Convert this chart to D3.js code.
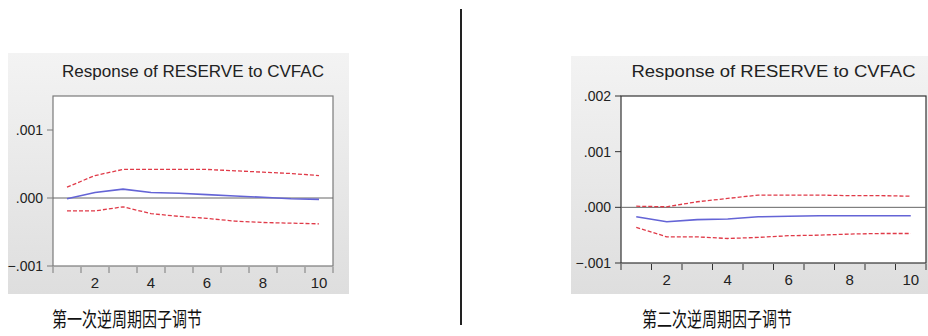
<!DOCTYPE html>
<html>
<head>
<meta charset="utf-8">
<script src="https://cdn.jsdelivr.net/npm/d3@7"></script>
<style>
  body { margin: 0; background: #fff; }
  svg { display: block; }
</style>
</head>
<body>
<div id="chart"></div>
<script>
// impulse response data
const periods = [1, 2, 3, 4, 5, 6, 7, 8, 9, 10];
const xTickLabels = [2, 4, 6, 8, 10];

const resp1 = [-0.00001, 0.00008, 0.00013, 0.00008, 0.00007, 0.00005, 0.00003, 0.00001, -0.00001, -0.00002];
const upper1 = [0.00016, 0.00033, 0.00042, 0.00042, 0.00042, 0.00042, 0.0004, 0.00038, 0.00036, 0.00033];
const lower1 = [-0.00019, -0.00019, -0.00013, -0.00023, -0.00027, -0.0003, -0.00034, -0.00036, -0.00037, -0.00038];

const resp2 = [-0.00017, -0.00026, -0.00022, -0.00021, -0.00017, -0.00016, -0.00015, -0.00015, -0.00015, -0.00015];
const upper2 = [0.00002, 0.00001, 0.0001, 0.00016, 0.00022, 0.00022, 0.00022, 0.00021, 0.00021, 0.0002];
const lower2 = [-0.00036, -0.00053, -0.00053, -0.00056, -0.00054, -0.00051, -0.0005, -0.00048, -0.00047, -0.00047];

const yTicks1 = [-0.001, 0, 0.001];
const yTicks2 = [-0.001, 0, 0.001, 0.002];
const yDomain1 = [-0.001, 0.0015];
const yDomain2 = [-0.001, 0.002];

const chartTitle = "Response of RESERVE to CVFAC";
const captions = ["第一次逆周期因子调节", "第二次逆周期因子调节"];

const W = 928, H = 336;
const svg = d3.select("#chart").append("svg")
  .attr("width", W).attr("height", H);

// background gradient for the gray EViews frame
const defs = svg.append("defs");
const grad = defs.append("linearGradient")
  .attr("id", "bg").attr("x1", 0).attr("y1", 0).attr("x2", 0).attr("y2", 1);
grad.append("stop").attr("offset", "0%").attr("stop-color", "#f3f3f3");
grad.append("stop").attr("offset", "100%").attr("stop-color", "#dedede");

const fmt = v => d3.format(".3f")(v).replace("0.", ".");

const panels = [
  { bg: [8, 53, 341, 241], plot: { l: 53, t: 96, r: 333, b: 266 }, titleY: 77, titleW: 262,
    resp: resp1, upper: upper1, lower: lower1, yTicks: yTicks1, yDomain: yDomain1,
    frame: "#7a7a7a", captionX: 127 },
  { bg: [571, 56, 357, 238], plot: { l: 621, t: 96, r: 926, b: 263 }, titleY: 77, titleW: 284,
    resp: resp2, upper: upper2, lower: lower2, yTicks: yTicks2, yDomain: yDomain2,
    frame: "#333", captionX: 717 }
];

panels.forEach((p, i) => {
  const g = svg.append("g");
  const { l, t, r, b } = p.plot;

  g.append("rect")
    .attr("x", p.bg[0]).attr("y", p.bg[1])
    .attr("width", p.bg[2]).attr("height", p.bg[3])
    .attr("fill", "url(#bg)");

  const x = d3.scaleBand().domain(periods).range([l, r]);
  const y = d3.scaleLinear().domain(p.yDomain).range([b, t]);
  const cx = d => x(d) + x.bandwidth() / 2;

  // plot area
  g.append("rect")
    .attr("x", l).attr("y", t).attr("width", r - l).attr("height", b - t)
    .attr("fill", "#fff").attr("stroke", p.frame).attr("stroke-width", 1.2);

  // zero line
  g.append("line")
    .attr("x1", l).attr("x2", r).attr("y1", y(0)).attr("y2", y(0))
    .attr("stroke", "#666").attr("stroke-width", 1);

  // y ticks + labels
  p.yTicks.forEach(v => {
    g.append("line")
      .attr("x1", l - 6).attr("x2", l).attr("y1", y(v)).attr("y2", y(v))
      .attr("stroke", p.frame);
    g.append("text")
      .attr("x", l - 10).attr("y", y(v)).attr("dy", "0.35em")
      .attr("text-anchor", "end")
      .attr("font-family", "Liberation Sans, Arial, sans-serif")
      .attr("font-size", 14).attr("fill", "#222")
      .text(fmt(v));
  });

  // x ticks at band edges, labels at centres
  periods.concat([periods.length + 1]).forEach((d, k) => {
    const xx = k < periods.length ? x(d) : r;
    g.append("line")
      .attr("x1", xx).attr("x2", xx).attr("y1", b + 1).attr("y2", b + 7)
      .attr("stroke", p.frame);
  });
  xTickLabels.forEach(d => {
    g.append("text")
      .attr("x", cx(d)).attr("y", b + 22)
      .attr("text-anchor", "middle")
      .attr("font-family", "Liberation Sans, Arial, sans-serif")
      .attr("font-size", 15).attr("fill", "#222")
      .text(d);
  });

  const line = d3.line().x((v, k) => cx(periods[k])).y(v => y(v));

  g.append("path").datum(p.upper)
    .attr("fill", "none").attr("stroke", "#e03a48").attr("stroke-width", 1.3)
    .attr("stroke-dasharray", "4,2").attr("d", line);
  g.append("path").datum(p.lower)
    .attr("fill", "none").attr("stroke", "#e03a48").attr("stroke-width", 1.3)
    .attr("stroke-dasharray", "4,2").attr("d", line);
  g.append("path").datum(p.resp)
    .attr("fill", "none").attr("stroke", "#6464d6").attr("stroke-width", 1.6)
    .attr("d", line);

  // title
  g.append("text")
    .attr("x", (l + r) / 2).attr("y", p.titleY)
    .attr("text-anchor", "middle")
    .attr("font-family", "Liberation Sans, Arial, sans-serif")
    .attr("font-size", 16).attr("fill", "#222")
    .attr("textLength", p.titleW).attr("lengthAdjust", "spacingAndGlyphs")
    .text(chartTitle);

  // caption below panel (glyphs look condensed in the source)
  svg.append("text")
    .attr("x", p.captionX).attr("y", 327)
    .attr("text-anchor", "middle")
    .attr("font-family", "Noto Sans CJK SC, sans-serif")
    .attr("font-size", 20).attr("fill", "#111")
    .attr("textLength", 150).attr("lengthAdjust", "spacingAndGlyphs")
    .text(captions[i]);
});

// vertical divider between the two panels
svg.append("line")
  .attr("x1", 461).attr("x2", 461).attr("y1", 9).attr("y2", 325)
  .attr("stroke", "#222").attr("stroke-width", 2);
</script>
</body>
</html>
